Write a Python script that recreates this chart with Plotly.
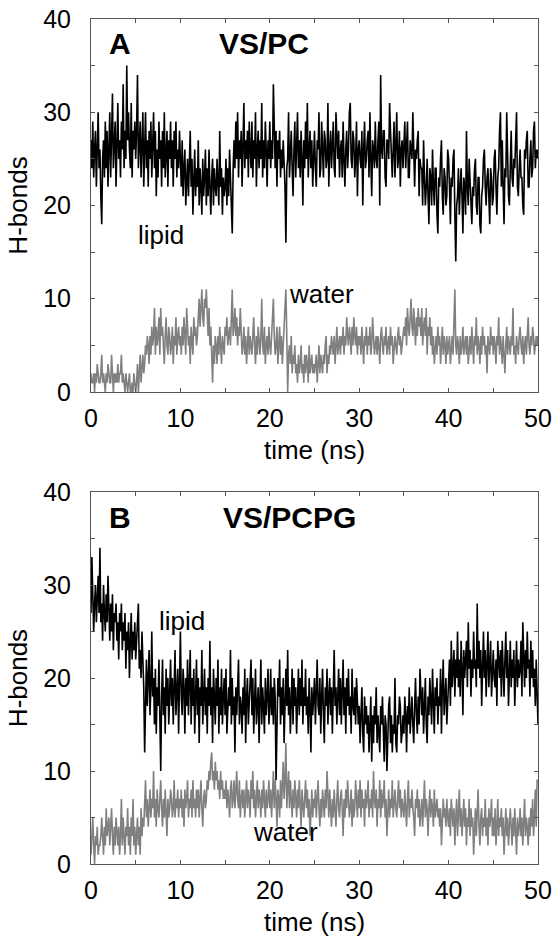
import plotly.graph_objects as go
from plotly.subplots import make_subplots

# time axis: 0..50 ns, one sample every 0.1 ns
time_ns = [round(i * 0.1, 1) for i in range(501)]

# Panel A (VS/PC) -- one row per nanosecond
a_lipid = [
    27, 24, 29, 23, 26, 28, 22, 25, 30, 24,
    26, 21, 18, 25, 27, 23, 29, 24, 28, 22,
    25, 30, 23, 27, 32, 24, 26, 29, 22, 28,
    31, 25, 27, 23, 29, 26, 33, 24, 28, 25,
    35, 27, 30, 26, 24, 31, 23, 28, 26, 29,
    25, 28, 34, 24, 27, 29, 23, 26, 30, 22,
    26, 30, 24, 27, 22, 28, 25, 29, 23, 27,
    30, 24, 28, 21, 26, 23, 29, 25, 27, 22,
    28, 24, 30, 23, 26, 28, 22, 27, 25, 29,
    24, 27, 22, 28, 25, 29, 23, 26, 24, 28,
    25, 22, 27, 21, 24, 26, 20, 23, 25, 21,
    24, 28, 22, 25, 19, 23, 26, 21, 24, 22,
    27, 20, 24, 22, 19, 25, 21, 23, 26, 20,
    24, 21, 26, 22, 19, 23, 25, 20, 24, 22,
    21, 25, 23, 20, 28, 22, 24, 19, 23, 21,
    22, 25, 20, 24, 21, 26, 23, 19, 17, 24,
    27, 24, 29, 25, 30, 23, 27, 25, 28, 22,
    26, 31, 24, 27, 25, 28, 23, 29, 26, 24,
    29, 23, 27, 25, 30, 22, 26, 28, 24, 27,
    25, 31, 23, 27, 24, 29, 26, 22, 27, 25,
    29, 24, 27, 25, 33, 26, 24, 28, 22, 27,
    25, 28, 23, 26, 24, 27, 25, 22, 16, 24,
    25, 30, 23, 27, 28, 24, 21, 26, 29, 23,
    26, 30, 24, 27, 23, 28, 25, 20, 27, 24,
    29, 25, 31, 23, 26, 28, 24, 27, 22, 25,
    28, 24, 22, 27, 26, 30, 23, 24, 29, 26,
    23, 28, 27, 24, 25, 31, 22, 26, 28, 24,
    26, 29, 24, 23, 30, 27, 25, 28, 23, 26,
    27, 23, 29, 25, 22, 26, 28, 24, 26, 30,
    31, 25, 24, 28, 27, 23, 25, 29, 21, 26,
    27, 25, 24, 28, 20, 26, 29, 24, 25, 27,
    28, 23, 30, 25, 21, 27, 26, 24, 29, 25,
    24, 27, 29, 20, 34, 26, 25, 28, 28, 23,
    22, 27, 27, 25, 31, 28, 24, 23, 26, 29,
    23, 27, 30, 24, 25, 28, 22, 26, 27, 24,
    27, 29, 24, 26, 29, 23, 23, 27, 26, 25,
    30, 24, 22, 26, 25, 27, 28, 21, 25, 24,
    24, 20, 27, 23, 20, 22, 25, 21, 18, 24,
    23, 20, 26, 22, 20, 24, 24, 19, 17, 23,
    22, 25, 27, 21, 19, 24, 23, 20, 21, 26,
    25, 22, 18, 23, 22, 25, 26, 19, 14, 20,
    21, 24, 19, 22, 24, 21, 17, 23, 22, 19,
    28, 22, 20, 25, 23, 20, 18, 22, 21, 24,
    25, 20, 19, 23, 23, 18, 17, 21, 22, 25,
    26, 22, 20, 23, 24, 21, 18, 24, 23, 20,
    21, 25, 26, 22, 19, 23, 24, 28, 30, 22,
    27, 22, 18, 24, 23, 30, 25, 21, 20, 26,
    28, 23, 22, 25, 24, 27, 30, 22, 21, 24,
    26, 23, 23, 20, 19, 26, 25, 27, 28, 22,
    22, 25, 27, 23, 24, 28, 29, 24, 26, 25,
    26,
]
a_water = [
    2, 1, 1, 2, 0, 2, 1, 3, 2, 1,
    1, 2, 4, 1, 2, 1, 0, 2, 1, 3,
    2, 1, 1, 4, 2, 0, 2, 1, 2, 1,
    3, 1, 2, 2, 4, 1, 2, 1, 0, 2,
    1, 0, 1, 2, 0, 0, 1, 0, 2, 1,
    0, 1, 3, 0, 2, 4, 1, 3, 4, 2,
    3, 5, 4, 6, 5, 3, 6, 4, 7, 5,
    6, 9, 4, 7, 5, 6, 8, 4, 9, 6,
    7, 5, 3, 6, 8, 5, 4, 7, 6, 4,
    5, 7, 3, 6, 5, 8, 4, 6, 7, 5,
    6, 4, 7, 5, 8, 6, 4, 9, 7, 5,
    6, 3, 7, 5, 4, 8, 6, 7, 5, 6,
    8, 10, 7, 9, 11, 8, 7, 10, 9, 11,
    8, 6, 9, 5, 7, 4, 1, 5, 3, 6,
    5, 3, 6, 4, 7, 5, 3, 6, 5, 4,
    7, 6, 8, 5, 6, 7, 5, 8, 11, 6,
    7, 9, 6, 8, 5, 7, 6, 9, 6, 4,
    5, 7, 4, 6, 3, 5, 7, 4, 6, 5,
    4, 6, 8, 5, 3, 6, 4, 7, 5, 4,
    6, 10, 5, 4, 7, 3, 5, 6, 4, 7,
    5, 4, 6, 8, 10, 6, 4, 5, 7, 3,
    5, 7, 4, 6, 3, 5, 7, 9, 11, 6,
    0, 4, 5, 3, 6, 2, 4, 3, 5, 2,
    3, 1, 4, 2, 3, 5, 2, 3, 1, 4,
    2, 4, 3, 1, 5, 2, 3, 4, 2, 3,
    2, 3, 4, 1, 3, 5, 2, 4, 3, 2,
    4, 3, 5, 6, 2, 4, 3, 5, 4, 6,
    5, 4, 6, 3, 5, 7, 4, 5, 6, 4,
    6, 5, 7, 4, 6, 5, 8, 6, 5, 7,
    6, 4, 7, 5, 8, 6, 5, 7, 4, 6,
    5, 6, 4, 7, 5, 3, 6, 5, 7, 4,
    6, 5, 7, 4, 5, 8, 6, 4, 5, 6,
    4, 6, 5, 3, 6, 7, 5, 4, 6, 5,
    7, 4, 5, 6, 4, 7, 5, 6, 3, 5,
    6, 5, 4, 6, 7, 5, 6, 4, 5, 6,
    7, 6, 8, 5, 9, 7, 6, 8, 10, 7,
    6, 9, 7, 5, 8, 6, 9, 7, 8, 6,
    9, 5, 7, 8, 6, 9, 4, 7, 6, 8,
    5, 7, 4, 6, 3, 5, 6, 4, 7, 5,
    6, 3, 5, 7, 4, 6, 5, 3, 6, 4,
    5, 6, 3, 5, 6, 4, 7, 11, 5, 4,
    6, 5, 3, 6, 4, 5, 7, 4, 5, 6,
    4, 6, 3, 5, 6, 4, 7, 5, 3, 6,
    5, 8, 4, 6, 5, 3, 6, 4, 7, 5,
    6, 4, 5, 2, 6, 5, 4, 7, 5, 6,
    4, 6, 5, 3, 6, 5, 8, 4, 6, 5,
    3, 6, 4, 2, 5, 7, 4, 6, 5, 4,
    6, 5, 9, 4, 5, 3, 6, 5, 4, 6,
    7, 5, 4, 6, 3, 5, 6, 4, 6, 8,
    5, 4, 6, 5, 7, 6, 4, 5, 6, 5,
    6,
]

# Panel B (VS/PCPG)
b_lipid = [
    27, 33, 29, 25, 28, 30, 26, 29, 31, 27,
    34, 26, 28, 24, 30, 27, 25, 29, 26, 31,
    27, 24, 28, 25, 29, 23, 27, 26, 28, 24,
    26, 22, 27, 25, 28, 23, 26, 24, 27, 21,
    25, 23, 26, 20, 24, 27, 22, 25, 23, 26,
    22, 24, 27, 28, 21, 23, 20, 25, 22, 19,
    12, 18, 22, 17, 20, 23, 16, 19, 25, 18,
    20, 15, 21, 14, 19, 17, 22, 13, 10, 18,
    22, 16, 19, 14, 21, 17, 20, 15, 18, 22,
    17, 20, 15, 19, 23, 16, 18, 21, 14, 19,
    25, 18, 16, 21, 19, 14, 20, 17, 22, 16,
    19, 23, 15, 20, 17, 21, 14, 18, 22, 16,
    20, 13, 19, 17, 23, 15, 18, 21, 16, 19,
    14, 20, 17, 24, 16, 19, 13, 21, 18, 15,
    20, 17, 22, 14, 19, 16, 21, 15, 18, 20,
    16, 21, 14, 18, 19, 17, 23, 15, 20, 16,
    18, 12, 19, 16, 20, 22, 15, 18, 17, 14,
    19, 16, 21, 13, 18, 20, 15, 17, 19, 22,
    16, 20, 14, 18, 21, 15, 17, 19, 13, 18,
    22, 15, 19, 17, 14, 20, 16, 18, 21, 15,
    17, 21, 16, 19, 15, 20, 18, 9, 17, 20,
    18, 22, 15, 19, 16, 20, 13, 18, 21, 17,
    23, 16, 19, 14, 18, 21, 15, 20, 17, 19,
    14, 18, 21, 16, 20, 17, 22, 15, 19, 17,
    21, 16, 18, 14, 20, 17, 12, 19, 16, 18,
    20, 15, 19, 22, 17, 16, 20, 14, 18, 21,
    16, 13, 19, 17, 21, 15, 18, 20, 16, 19,
    14, 20, 23, 17, 19, 15, 18, 21, 16, 20,
    15, 18, 22, 16, 19, 14, 20, 17, 21, 16,
    18, 14, 21, 17, 16, 19, 15, 20, 17, 15,
    17, 13, 16, 19, 14, 12, 18, 15, 17, 14,
    16, 12, 15, 18, 11, 16, 13, 17, 15, 19,
    13, 16, 14, 12, 17, 15, 18, 14, 11, 16,
    15, 10, 14, 17, 18, 13, 16, 12, 15, 14,
    20, 13, 12, 16, 15, 18, 17, 13, 14, 16,
    14, 18, 16, 12, 17, 15, 19, 14, 16, 18,
    15, 13, 17, 20, 16, 14, 18, 15, 21, 17,
    16, 19, 14, 17, 20, 15, 13, 18, 16, 20,
    18, 15, 21, 16, 14, 19, 17, 20, 15, 18,
    17, 21, 14, 19, 22, 16, 18, 20, 15, 17,
    20, 22, 17, 24, 19, 21, 23, 18, 22, 20,
    25, 19, 22, 18, 24, 21, 16, 23, 20, 22,
    24, 19, 26, 21, 23, 18, 22, 20, 25, 21,
    22, 19, 28, 21, 24, 20, 23, 17, 22, 25,
    20, 23, 18, 22, 25, 19, 21, 24, 18, 21,
    23, 20, 19, 22, 17, 24, 21, 20, 23, 18,
    24, 21, 18, 22, 25, 20, 23, 17, 21, 24,
    19, 22, 20, 23, 17, 21, 24, 19, 22, 20,
    21, 24, 18, 26, 22, 19, 23, 20, 25, 21,
    22, 18, 24, 20, 23, 19, 21, 17, 22, 18,
    15,
]
b_water = [
    1, 3, 5, 2, 0, 3, 2, 4, 1, 2,
    2, 3, 5, 3, 1, 4, 2, 6, 3, 4,
    5, 2, 4, 6, 3, 1, 4, 2, 5, 3,
    2, 4, 1, 3, 7, 2, 5, 3, 1, 4,
    3, 6, 2, 4, 1, 5, 3, 7, 2, 4,
    1, 3, 5, 2, 4, 1, 6, 3, 5, 4,
    6, 9, 5, 7, 4, 6, 8, 5, 7, 6,
    10, 5, 7, 4, 8, 6, 5, 7, 9, 6,
    4, 7, 5, 8, 6, 3, 7, 5, 6, 8,
    7, 5, 6, 9, 5, 7, 6, 8, 5, 7,
    6, 8, 5, 7, 4, 8, 6, 7, 9, 5,
    7, 6, 8, 5, 9, 6, 7, 5, 8, 6,
    8, 5, 7, 9, 6, 4, 7, 8, 6, 7,
    9, 8, 10, 9, 11, 12, 9, 10, 8, 11,
    9, 10, 8, 9, 7, 10, 8, 9, 7, 8,
    7, 9, 6, 8, 7, 5, 8, 9, 6, 7,
    9, 6, 8, 10, 7, 6, 9, 5, 7, 8,
    6, 8, 5, 7, 9, 6, 8, 7, 5, 9,
    7, 10, 6, 8, 5, 7, 9, 6, 8, 7,
    5, 8, 6, 9, 7, 5, 8, 6, 7, 9,
    6, 8, 5, 7, 10, 6, 9, 7, 4, 8,
    7, 5, 9, 6, 8, 11, 7, 9, 13, 6,
    8, 10, 6, 9, 7, 5, 8, 6, 9, 7,
    5, 8, 6, 9, 7, 4, 8, 6, 5, 7,
    9, 6, 8, 5, 7, 3, 6, 8, 5, 7,
    6, 8, 5, 7, 9, 6, 4, 7, 5, 8,
    6, 5, 8, 6, 10, 7, 5, 8, 6, 4,
    7, 5, 8, 6, 4, 7, 9, 6, 5, 7,
    8, 6, 3, 7, 5, 8, 6, 9, 7, 5,
    6, 8, 4, 7, 5, 6, 9, 7, 5, 8,
    6, 9, 5, 8, 6, 7, 4, 8, 6, 7,
    9, 5, 7, 6, 8, 5, 10, 7, 6, 8,
    4, 7, 6, 9, 5, 8, 6, 7, 9, 5,
    7, 3, 6, 8, 5, 7, 6, 9, 5, 7,
    8, 6, 5, 7, 9, 6, 8, 5, 7, 6,
    5, 8, 6, 4, 7, 9, 5, 7, 6, 8,
    6, 5, 3, 7, 6, 8, 5, 7, 4, 6,
    7, 4, 6, 9, 5, 7, 6, 3, 6, 8,
    5, 7, 6, 4, 8, 5, 6, 7, 5, 6,
    4, 6, 2, 5, 7, 5, 6, 4, 7, 5,
    4, 6, 3, 7, 5, 4, 6, 2, 5, 7,
    3, 5, 8, 4, 6, 3, 5, 7, 4, 6,
    2, 5, 4, 7, 3, 6, 4, 5, 1, 4,
    6, 3, 5, 8, 4, 2, 5, 6, 3, 5,
    4, 7, 3, 5, 2, 6, 4, 5, 7, 3,
    5, 3, 6, 2, 4, 7, 3, 5, 4, 6,
    3, 5, 1, 4, 6, 3, 5, 2, 4, 6,
    4, 2, 5, 3, 6, 4, 1, 5, 3, 4,
    6, 3, 5, 2, 4, 7, 3, 5, 4, 2,
    5, 3, 6, 4, 7, 3, 5, 8, 4, 9,
    9,
]

x_ticks = [0, 10, 20, 30, 40, 50]
y_ticks = [0, 10, 20, 30, 40]

FONT = "Liberation Sans, Arial, sans-serif"
GRAY = "rgb(128,128,128)"
FRAME = "#555"

fig = make_subplots(rows=2, cols=1)

for row, lipid, water in [(1, a_lipid, a_water), (2, b_lipid, b_water)]:
    fig.add_trace(go.Scatter(x=time_ns, y=water, mode="lines",
                             line=dict(color=GRAY, width=1.6),
                             showlegend=False, hoverinfo="skip"), row=row, col=1)
    fig.add_trace(go.Scatter(x=time_ns, y=lipid, mode="lines",
                             line=dict(color="black", width=1.6),
                             showlegend=False, hoverinfo="skip"), row=row, col=1)

axis_style = dict(
    showline=True, mirror="ticks", linecolor=FRAME, linewidth=1,
    ticks="inside", ticklen=4, tickcolor=FRAME, showgrid=False, zeroline=False,
    automargin=False, ticklabeloverflow="allow",
    tickfont=dict(size=25, color="black", family=FONT),
    minor=dict(ticks="inside", ticklen=4, tickcolor=FRAME, dtick=5),
)

fig.update_xaxes(range=[0, 50], tickvals=x_ticks, ticklabelstandoff=4, **axis_style)
fig.update_yaxes(range=[0, 40], tickvals=y_ticks, ticklabelstandoff=14, **axis_style)
fig.update_xaxes(title=dict(text="time (ns)", font=dict(size=26, family=FONT), standoff=9))
fig.update_yaxes(title=dict(text="H-bonds", font=dict(size=26, family=FONT), standoff=8))

fig.update_layout(
    width=555, height=939,
    margin=dict(l=91, r=17, t=19, b=75),
    plot_bgcolor="white", paper_bgcolor="white",
    font=dict(family=FONT, color="black"),
    xaxis=dict(domain=[0, 1]),
    yaxis=dict(domain=[0.5586, 1.0]),
    xaxis2=dict(domain=[0, 1]),
    yaxis2=dict(domain=[0.0, 0.4402]),
)

labels = [
    ("x", "y", 3.2, 37.4, "<b>A</b>", 30),
    ("x", "y", 19.4, 37.4, "<b>VS/PC</b>", 30),
    ("x", "y", 7.8, 16.8, "lipid", 26),
    ("x", "y", 25.8, 10.5, "water", 26),
    ("x2", "y2", 3.2, 37.3, "<b>B</b>", 30),
    ("x2", "y2", 22.2, 37.3, "<b>VS/PCPG</b>", 30),
    ("x2", "y2", 10.2, 26.1, "lipid", 26),
    ("x2", "y2", 21.7, 3.4, "water", 26),
]
for xr, yr, x, y, txt, size in labels:
    fig.add_annotation(xref=xr, yref=yr, x=x, y=y, text=txt, showarrow=False,
                       font=dict(size=size, family=FONT, color="black"))

# drop the default 8px page margin so the figure fills the window exactly
fig.write_html("out.html",
               config={"displayModeBar": False},
               post_script="document.body.style.margin='0';"
                           "document.documentElement.style.overflow='hidden';")
